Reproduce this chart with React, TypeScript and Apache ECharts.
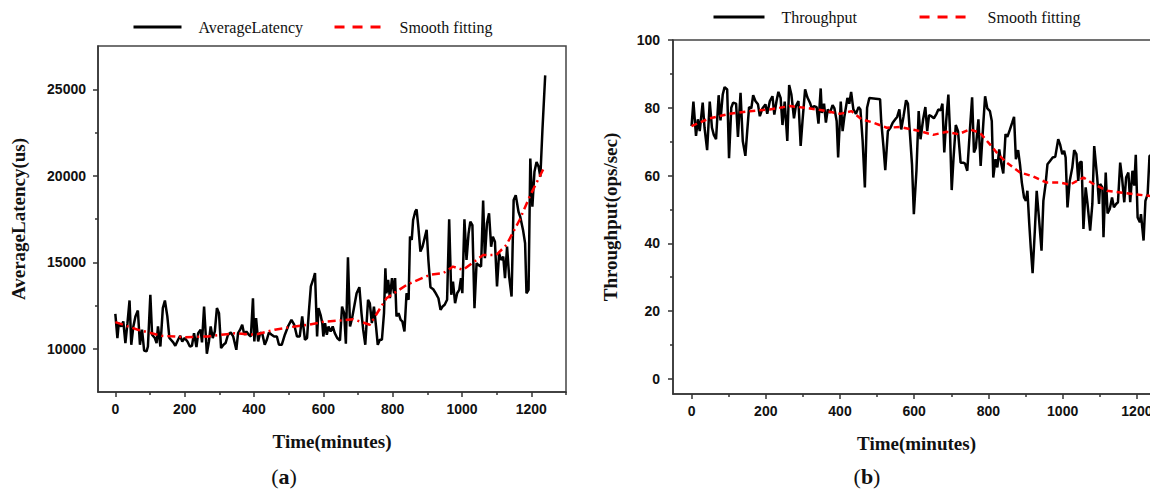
import React, { useEffect, useRef } from "react";
import * as echarts from "echarts";

// ---------- Data ----------
const latencyMinutes = [
  0, 6, 10, 17, 23, 29, 35, 41, 46, 52, 58, 65, 71, 77, 83, 90, 94, 101, 106, 114, 119, 123, 130, 137, 143, 150, 156, 167, 173, 181,
  187, 193, 200, 208, 215, 221, 227, 234, 239, 246, 250, 256, 264, 270, 275, 281, 287, 293, 299, 305, 312, 318, 325, 333, 340, 349,
  354, 360, 366, 372, 378, 385, 391, 397, 401, 406, 412, 418, 424, 431, 437, 443, 451, 458, 466, 472, 480, 489, 499, 508, 516, 524,
  532, 539, 547, 553, 558, 564, 572, 576, 582, 586, 592, 597, 600, 605, 610, 615, 621, 627, 633, 640, 648, 654, 660, 665, 671, 677,
  683, 690, 696, 704, 710, 715, 721, 729, 734, 740, 746, 752, 757, 763, 769, 775, 779, 782, 787, 792, 798, 804, 807, 811, 817, 823,
  828, 834, 840, 846, 850, 855, 859, 865, 869, 874, 880, 886, 892, 898, 903, 909, 917, 924, 932, 938, 944, 950, 957, 963, 969, 974,
  980, 986, 992, 997, 1001, 1007, 1013, 1019, 1024, 1030, 1036, 1042, 1047, 1055, 1061, 1066, 1072, 1078, 1084, 1089, 1095, 1101,
  1107, 1113, 1119, 1124, 1130, 1136, 1143, 1149, 1155, 1163, 1168, 1176, 1182, 1186, 1192, 1197, 1203, 1209, 1215, 1221, 1226,
  1232, 1240,
];
const latencyValues = [
  12020, 10620, 11480, 11290, 11580, 10330, 11480, 12790, 10230, 11290, 11870, 12210, 10230, 11100, 9900, 9850, 10130, 13120, 10810,
  10620, 10330, 11290, 10130, 12350, 12790, 11870, 10620, 10370, 10170, 10520, 10750, 10420, 10620, 10420, 10130, 10170, 10900,
  10100, 10900, 11100, 10370, 12440, 9710, 10420, 11290, 10620, 11000, 12350, 12060, 10040, 10230, 10330, 10810, 10940, 10710,
  9940, 10900, 11100, 11390, 10810, 11000, 10810, 10710, 12920, 10420, 11770, 10420, 10940, 10860, 10230, 10520, 10940, 10810,
  10710, 10710, 10230, 10230, 10810, 11330, 11670, 11390, 10710, 10710, 11870, 10520, 10620, 12060, 13600, 14080, 14370, 10710,
  12350, 11960, 11480, 10710, 11480, 10810, 11290, 11000, 11290, 10900, 10620, 10480, 12440, 12060, 10290, 15290, 11290, 11770,
  12540, 13210, 13560, 12060, 11100, 10230, 12830, 12630, 11480, 12440, 11290, 10230, 10520, 10520, 12060, 14650, 13210, 13980,
  12920, 14080, 13210, 14080, 11870, 12060, 11670, 11580, 11000, 13210, 12830, 16480, 16290, 17440, 17920, 18060, 17060, 15620,
  15900, 16380, 16870, 15130, 13560, 13440, 13210, 12920, 12250, 12440, 12540, 12830, 17480, 13120, 13880, 12630, 13210, 13400,
  14080, 13210, 17480, 15130, 16670, 17350, 17150, 12350, 14940, 14850, 14750, 18560, 15230, 17250, 17830, 15900, 16480, 16190,
  13600, 15520, 15130, 15330, 14080, 15900, 14170, 13020, 18600, 18880, 17920, 17630, 16870, 16100, 13210, 13400, 21000, 18210,
  20230, 20800, 20520, 19940, 22630, 25800,
];
const latencyFitMinutes = [
  0, 65, 133, 200, 267, 345, 402, 460, 518, 560, 600, 648, 686, 734, 744, 782, 840, 907, 946, 974, 1003, 1042, 1061, 1099, 1128,
  1166, 1195, 1238,
];
const latencyFitValues = [
  11540, 11100, 10750, 10670, 10710, 10900, 10810, 11100, 11290, 11390, 11560, 11630, 11710, 11390, 11700, 12920, 13690, 14270,
  14370, 14750, 14560, 15130, 15420, 15420, 16000, 17440, 18790, 20520,
];

const throughputMinutes = [
  0, 5, 12, 17, 22, 30, 35, 42, 49, 55, 60, 66, 73, 78, 84, 89, 96, 101, 107, 112, 120, 125, 132, 138, 145, 150, 155, 161, 166, 172,
  179, 184, 191, 199, 204, 211, 218, 223, 229, 234, 240, 245, 251, 258, 263, 269, 276, 281, 288, 294, 299, 306, 312, 319, 324, 330,
  337, 342, 348, 351, 357, 362, 367, 373, 380, 385, 391, 395, 402, 407, 412, 420, 425, 430, 436, 443, 450, 455, 461, 467, 473, 479,
  508, 511, 517, 522, 529, 536, 542, 549, 554, 560, 565, 571, 578, 583, 588, 594, 599, 606, 612, 617, 624, 630, 635, 640, 646, 653,
  660, 665, 671, 676, 681, 686, 692, 696, 701, 706, 712, 718, 725, 732, 737, 743, 749, 756, 761, 766, 773, 779, 786, 791, 797, 804,
  809, 813, 819, 824, 829, 835, 840, 846, 851, 858, 864, 869, 874, 880, 885, 890, 896, 901, 905, 910, 914, 919, 925, 930, 936, 943,
  948, 954, 959, 966, 973, 980, 988, 993, 999, 1004, 1008, 1013, 1019, 1026, 1031, 1037, 1042, 1046, 1051, 1056, 1062, 1067, 1074,
  1080, 1085, 1093, 1098, 1101, 1107, 1110, 1116, 1121, 1127, 1133, 1138, 1144, 1149, 1155, 1160, 1166, 1171, 1177, 1182, 1188,
  1193, 1197, 1202, 1208, 1211, 1218, 1223, 1229, 1234, 1245,
];
const throughputValues = [
  74.6, 81.8, 71.7, 76.6, 73.1, 81.5, 74.1, 67.5, 81.8, 74.1, 72, 70.7, 83.7, 76.3, 83.9, 86.1, 85.4, 65.1, 80, 81.5, 81.2, 71.4,
  84.4, 70.2, 65.8, 73.1, 80.2, 79.8, 83.7, 82, 81, 77.5, 79.8, 81, 78.2, 82, 83.4, 78, 82, 84.7, 82.9, 74.9, 81.8, 70.2, 86.7, 83.9,
  76.9, 80.5, 82, 68.7, 76.1, 85.4, 83.1, 81.5, 79.8, 80.5, 80.2, 75.3, 85.7, 78.5, 81.2, 75.6, 79.5, 78.5, 80.8, 79.8, 76.1, 65.3,
  81.8, 73.1, 77.5, 82.9, 81.2, 84.7, 79.5, 78.2, 80.2, 79.5, 70.2, 56.5, 80, 82.9, 82.5, 76.1, 68.7, 61.6, 73.1, 74.1, 75.6, 76.6,
  77.3, 79.5, 73.6, 77.3, 82.2, 81.2, 73.1, 63.3, 48.6, 61.4, 79, 70.7, 76.6, 80.2, 73.1, 77.8, 77.5, 76.9, 78.2, 79.5, 79.2, 81.2,
  66.8, 75.9, 83.9, 74.1, 55.7, 65.3, 74.9, 73.1, 63.8, 63.8, 63.5, 61.4, 71.7, 83.1, 66.8, 68.2, 76.6, 62.8, 75.1, 83.4, 79.8, 79,
  76.1, 59.4, 64.8, 62.4, 67.7, 63.3, 60.6, 72.2, 71.4, 73.6, 75.6, 77.3, 64.8, 67.5, 63.3, 57.9, 53.5, 52.5, 55.5, 45.7, 38.8, 31.2,
  43.7, 55.5, 47.6, 37.8, 52.5, 57.5, 63.3, 64.3, 65.3, 65.5, 70.7, 69.2, 66.3, 67.3, 65.3, 50.6, 58.4, 62.4, 67.5, 66.3, 58.4, 63.8,
  64.1, 44.2, 56.5, 51.6, 43.7, 51.6, 68.7, 59.4, 51.6, 57.5, 56.5, 41.8, 60.9, 48.8, 50.1, 53.5, 50.6, 51.6, 52.1, 63.8, 59.4, 52.1,
  59.4, 60.9, 52.1, 61.4, 57, 66.1, 47.6, 46.2, 48.6, 40.8, 52.5, 54.5, 65.8, 66,
];
const throughputFitMinutes = [
  0, 49, 103, 157, 211, 265, 319, 355, 400, 431, 458, 490, 526, 561, 615, 651, 687, 719, 750, 777, 804, 822, 849, 885, 921, 957, 993,
  1020, 1056, 1083, 1119, 1155, 1191, 1232, 1245,
];
const throughputFitValues = [
  74.6, 76.9, 78.2, 79, 79.5, 80.5, 79.8, 79.2, 78.2, 79, 76.6, 75.6, 74.1, 74.3, 73.1, 72, 72.9, 72.2, 73.6, 72.6, 69.2, 66.8, 63.8,
  60.9, 59.7, 57.9, 57.9, 57.3, 59.4, 57.5, 55.5, 55, 54.5, 54, 53.8,
];

const timeMajorTicks = [0, 200, 400, 600, 800, 1000, 1200];
const timeMinorTicks = [100, 300, 500, 700, 900, 1100, 1300];
const latencyMajorTicks = [10000, 15000, 20000, 25000];
const latencyMinorTicks = [12500, 17500, 22500];
const throughputMajorTicks = [0, 20, 40, 60, 80, 100];
const throughputMinorTicks = [10, 30, 50, 70, 90];

const zip = (xs: number[], ys: number[]) => xs.map((x, i) => [x, ys[i]]);

const AXIS_COLOR = "#333";
const labelFont = {
  fontFamily: "Liberation Sans, Arial, sans-serif",
  fontWeight: "bold" as const,
  fontSize: 14,
  color: "#111",
};
const titleFont = {
  fontFamily: "Liberation Serif, Times New Roman, serif",
  fontWeight: "bold" as const,
  fontSize: 19,
  color: "#111",
};

function mainAxis(
  kind: "x" | "y",
  gridIndex: number,
  min: number,
  max: number,
  ticks: number[],
  name: string,
  nameGap: number,
  labelMargin: number,
  namePadding: number[] = [0, 0, 0, 0]
) {
  return {
    type: "value",
    gridIndex,
    position: kind === "x" ? "bottom" : "left",
    min,
    max,
    name,
    nameLocation: "middle",
    nameGap,
    nameTextStyle: { ...titleFont, padding: namePadding },
    splitLine: { show: false },
    axisLine: { show: true, onZero: false, lineStyle: { color: AXIS_COLOR, width: 1.5 } },
    axisTick: { show: true, length: 5, customValues: ticks, lineStyle: { color: AXIS_COLOR, width: 1.5 } },
    axisLabel: {
      show: true,
      customValues: ticks,
      margin: labelMargin,
      formatter: (v: number) => String(v),
      ...labelFont,
    },
  };
}

function minorAxis(kind: "x" | "y", gridIndex: number, min: number, max: number, ticks: number[]) {
  return {
    type: "value",
    gridIndex,
    position: kind === "x" ? "bottom" : "left",
    offset: 0,
    min,
    max,
    splitLine: { show: false },
    axisLine: { show: false, onZero: false },
    axisTick: { show: true, length: 3, customValues: ticks, lineStyle: { color: AXIS_COLOR, width: 1.5 } },
    axisLabel: { show: false },
  };
}

const legendText = {
  fontFamily: "Liberation Serif, Times New Roman, serif",
  fontSize: 16,
  color: "#111",
  padding: [0, 0, 0, 12],
};
const noSymbol = { opacity: 0 };

const captionRich = {
  p: { fontFamily: "Liberation Serif, serif", fontSize: 22, fill: "#111" },
  b: { fontFamily: "Liberation Serif, serif", fontSize: 22, fontWeight: "bold", fill: "#111" },
};

export default function App() {
  const ref = useRef<HTMLDivElement>(null);

  useEffect(() => {
    if (!ref.current) return;
    const chart = echarts.init(ref.current, undefined, { renderer: "svg" });
    const option: any = {
      animation: false,
      backgroundColor: "#fff",
      grid: [
        { left: 98, top: 46, width: 468, height: 346, show: true, borderColor: "#444", borderWidth: 1.5, backgroundColor: "transparent" },
        { left: 673, top: 40, width: 501, height: 354, show: true, borderColor: "#444", borderWidth: 1.5, backgroundColor: "transparent" },
      ],
      legend: [
        {
          left: 132,
          top: 19,
          padding: 0,
          itemWidth: 48,
          itemHeight: 14,
          itemGap: 30,
          textStyle: legendText,
          data: [
            { name: "AverageLatency", itemStyle: noSymbol, lineStyle: { color: "#000", width: 3, type: "solid" } },
            { name: "Smooth fitting", itemStyle: noSymbol, lineStyle: { color: "#ff0000", width: 3, type: [10, 8] } },
          ],
        },
        {
          left: 712,
          top: 9,
          padding: 0,
          itemWidth: 51,
          itemHeight: 14,
          itemGap: 61,
          textStyle: legendText,
          data: [
            { name: "Throughput", itemStyle: noSymbol, lineStyle: { color: "#000", width: 3, type: "solid" } },
            { name: "Smooth fitting", itemStyle: noSymbol, lineStyle: { color: "#ff0000", width: 3, type: [10, 8] } },
          ],
        },
      ],
      xAxis: [
        mainAxis("x", 0, -50, 1300, timeMajorTicks, "Time(minutes)", 40, 10),
        minorAxis("x", 0, -50, 1300, timeMinorTicks),
        mainAxis("x", 1, -50, 1300, timeMajorTicks, "Time(minutes)", 40, 10, [0, 14, 0, 0]),
        minorAxis("x", 1, -50, 1300, timeMinorTicks),
      ],
      yAxis: [
        mainAxis("y", 0, 7500, 27500, latencyMajorTicks, "AverageLatency(us)", 70, 12),
        minorAxis("y", 0, 7500, 27500, latencyMinorTicks),
        mainAxis("y", 1, -4.5, 100, throughputMajorTicks, "Throughput(ops/sec)", 53, 13),
        minorAxis("y", 1, -4.5, 100, throughputMinorTicks),
      ],
      series: [
        {
          name: "AverageLatency",
          type: "line",
          xAxisIndex: 0,
          yAxisIndex: 0,
          symbol: "none",
          data: zip(latencyMinutes, latencyValues),
          lineStyle: { color: "#000", width: 2.5 },
          itemStyle: { color: "#000" },
          z: 3,
        },
        {
          name: "Smooth fitting",
          type: "line",
          xAxisIndex: 0,
          yAxisIndex: 0,
          symbol: "none",
          data: zip(latencyFitMinutes, latencyFitValues),
          lineStyle: { color: "#ff0000", width: 2.5, type: [8, 4, 2, 4] },
          itemStyle: { color: "#ff0000" },
          z: 4,
        },
        {
          name: "Throughput",
          type: "line",
          xAxisIndex: 2,
          yAxisIndex: 2,
          symbol: "none",
          data: zip(throughputMinutes, throughputValues),
          lineStyle: { color: "#000", width: 2.5 },
          itemStyle: { color: "#000" },
          z: 3,
        },
        {
          name: "Smooth fitting",
          type: "line",
          xAxisIndex: 2,
          yAxisIndex: 2,
          symbol: "none",
          data: zip(throughputFitMinutes, throughputFitValues),
          lineStyle: { color: "#ff0000", width: 2.5, type: [6, 4] },
          itemStyle: { color: "#ff0000" },
          z: 4,
        },
      ],
      graphic: [
        {
          type: "text",
          x: 284,
          y: 476,
          style: { text: "{p|(}{b|a}{p|)}", align: "center", verticalAlign: "middle", rich: captionRich },
        },
        {
          type: "text",
          x: 867,
          y: 476,
          style: { text: "{p|(}{b|b}{p|)}", align: "center", verticalAlign: "middle", rich: captionRich },
        },
      ],
    };
    chart.setOption(option);
    return () => chart.dispose();
  }, []);

  // The reference's right panel runs past the picture's right edge, so the chart
  // canvas is wider than the visible 1150px window and clipped by its frame.
  return (
    <div
      style={{ position: "fixed", left: 0, top: 0, width: 1150, height: 490, overflow: "hidden", background: "#fff" }}
    >
      <div ref={ref} style={{ width: 1200, height: 490 }} />
    </div>
  );
}
